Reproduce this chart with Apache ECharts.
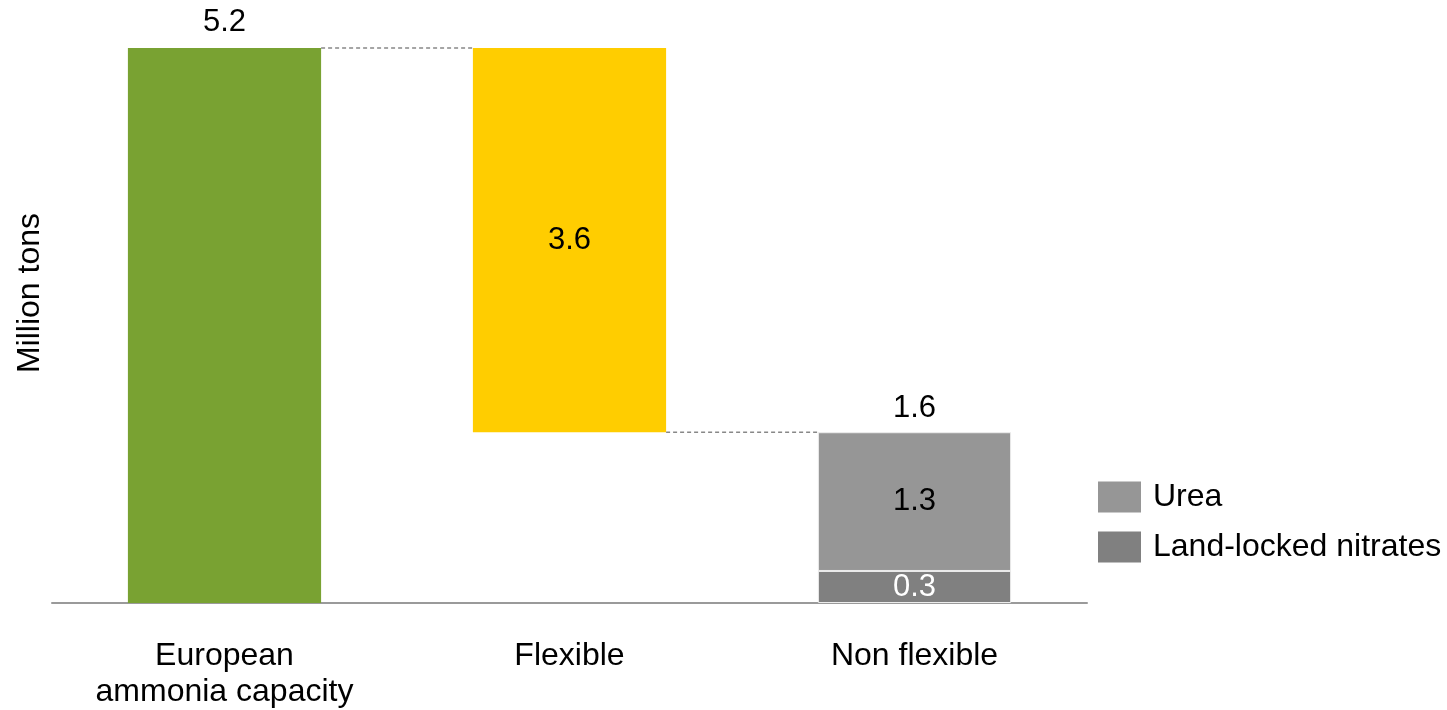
<!DOCTYPE html>
<html>
<head>
<meta charset="utf-8">
<script src="https://cdn.jsdelivr.net/npm/echarts@6/dist/echarts.min.js"></script>
<style>
  html, body { margin: 0; padding: 0; background: #fff; }
  #chart { width: 1447px; height: 710px; }
</style>
</head>
<body>
<div id="chart"></div>
<script>
  // data
  const categories = ["European\nammonia capacity", "Flexible", "Non flexible"];
  const baseValues = [0, 1.6, 0];            // invisible offset for the waterfall
  const mainValues = [5.2, 3.6, "-"];
  const nitrateValues = ["-", "-", 0.3];
  const ureaValues = ["-", "-", 1.3];
  const stackTotals = ["-", "-", 1.6];
  const connectorLevels = [5.2, 1.6];        // dashed step lines between bars

  const font = "Liberation Sans";
  const chart = echarts.init(document.getElementById("chart"));

  const option = {
    animation: false,
    textStyle: { fontFamily: font },
    grid: { left: 52, right: 360, top: 48, bottom: 107 },
    legend: {
      orient: "vertical",
      left: 1098,
      top: 481,
      padding: 0,
      itemWidth: 43,
      itemHeight: 31,
      itemGap: 18,
      icon: "rect",
      data: ["Urea", "Land-locked nitrates"],
      itemStyle: { borderWidth: 0 },
      textStyle: { fontSize: 32, color: "#000", fontFamily: font, padding: [0, 0, 0, 7] }
    },
    graphic: [{
      type: "text",
      x: 30,
      y: 293,
      rotation: Math.PI / 2,
      style: {
        text: "Million tons",
        font: "32px " + font,
        fill: "#000",
        textAlign: "center",
        textVerticalAlign: "middle"
      }
    }],
    xAxis: {
      type: "category",
      data: categories,
      axisTick: { show: false },
      axisLine: { lineStyle: { color: "#9a9a9a", width: 2 } },
      axisLabel: { fontSize: 32, color: "#000", margin: 35, lineHeight: 36, fontFamily: font }
    },
    yAxis: {
      type: "value",
      min: 0,
      max: 5.2,
      show: false
    },
    series: [
      {
        name: "base",
        type: "bar",
        stack: "w",
        barWidth: "56%",
        silent: true,
        itemStyle: { color: "transparent" },
        data: baseValues
      },
      {
        name: "main",
        type: "bar",
        stack: "w",
        data: mainValues.map((v, i) => i === 0
          ? { value: v, itemStyle: { color: "#79A232" }, label: { show: true, position: "top", distance: 10 } }
          : i === 1
            ? { value: v, itemStyle: { color: "#FFCD00" }, label: { show: true, position: "inside" } }
            : v),
        label: { fontSize: 31, color: "#000", fontFamily: font }
      },
      {
        name: "Land-locked nitrates",
        type: "bar",
        stack: "w",
        itemStyle: { color: "#808080", borderColor: "#ececec", borderWidth: 1 },
        label: { show: true, position: "inside", fontSize: 31, color: "#fff", fontFamily: font },
        data: nitrateValues
      },
      {
        name: "Urea",
        type: "bar",
        stack: "w",
        itemStyle: { color: "#969696", borderColor: "#ececec", borderWidth: 1 },
        label: { show: true, position: "inside", fontSize: 31, color: "#000", fontFamily: font },
        data: ureaValues
      },
      {
        name: "total",
        type: "scatter",
        symbolSize: 0,
        silent: true,
        itemStyle: { opacity: 1 },
        label: { show: true, position: "top", distance: 8, fontSize: 31, color: "#000", fontFamily: font },
        data: stackTotals
      },
      {
        name: "connectors",
        type: "custom",
        silent: true,
        data: connectorLevels.map((v, i) => [i, v]),
        renderItem: function (params, api) {
          const i = api.value(0);
          const v = api.value(1);
          const half = api.size([1, 0])[0] * 0.28;
          const p1 = api.coord([i, v]);
          const p2 = api.coord([i + 1, v]);
          return {
            type: "line",
            shape: { x1: p1[0] + half, y1: p1[1], x2: p2[0] - half, y2: p2[1] },
            style: { stroke: "#888", lineWidth: 1.5, lineDash: [4, 3] }
          };
        }
      }
    ]
  };

  chart.setOption(option);
</script>
</body>
</html>
